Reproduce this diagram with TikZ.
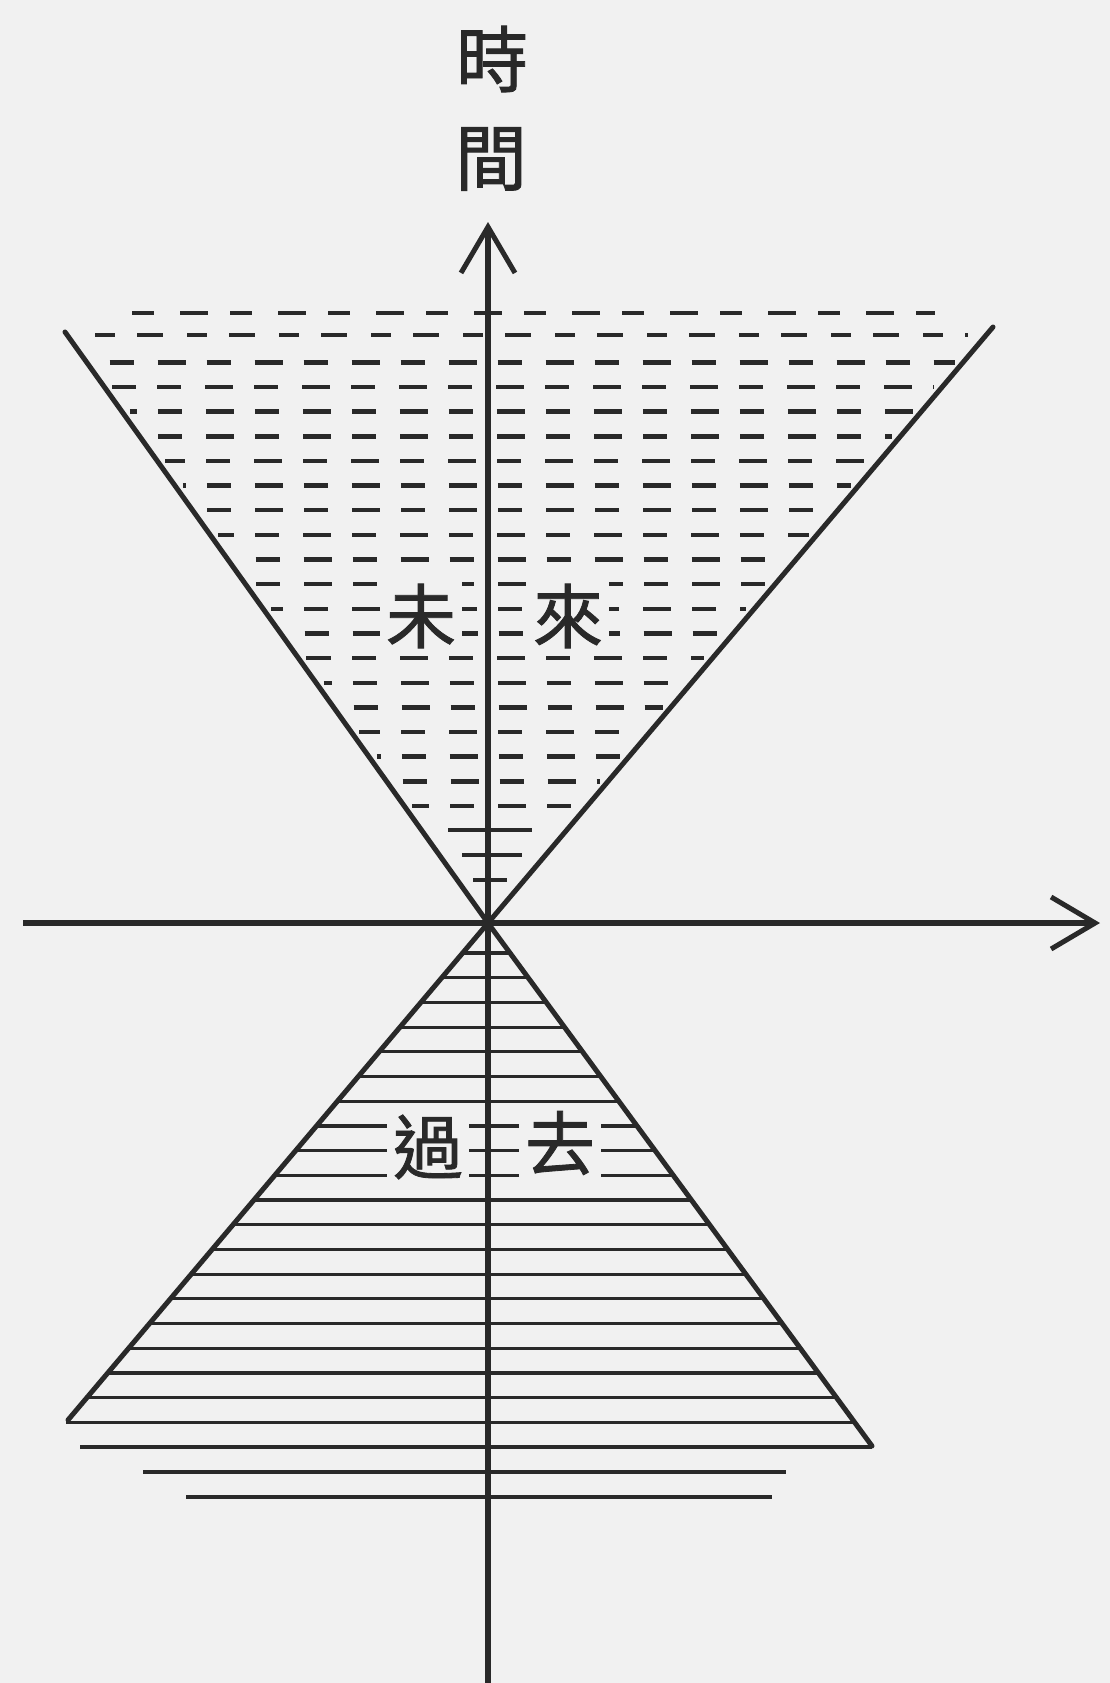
\documentclass[tikz,border=0pt]{standalone}
\usepackage{fontspec}
\newfontfamily\cjk[FakeBold=1.2]{Noto Sans CJK TC}
\usetikzlibrary{arrows.meta}
\definecolor{paper}{gray}{0.945}
\definecolor{ink}{gray}{0.16}
\begin{document}
\begin{tikzpicture}[x=1pt,y=-1pt,
  axis/.style={ink, line width=5.5pt},
  cone/.style={ink, line width=5pt, line cap=round},
  hatch/.style={ink, line width=3.2pt},
  dashrow/.style={ink, line width=4.5pt},
  kanji/.style={font=\cjk\fontsize{70}{70}\selectfont, text=ink, fill=paper, inner sep=6pt},
  axislabel/.style={font=\cjk\fontsize{72}{72}\selectfont, text=ink, inner sep=0pt},
  tipV/.style={-{Straight Barb[length=46pt,width=54pt,line width=5pt]}},
  tipH/.style={-{Straight Barb[length=44pt,width=52pt,line width=5pt]}}
]
\fill[paper] (0,0) rectangle (1110,1683);
\useasboundingbox (0,0) rectangle (1110,1683);

% key points
\coordinate (O) at (488,923);
\coordinate (T) at (488,222);
\coordinate (B) at (488,1690);
\coordinate (L) at (23,923);
\coordinate (R) at (1100,923);
\coordinate (UL) at (65,332);
\coordinate (UR) at (993,327);
\coordinate (LL) at (68,1420);
\coordinate (LR) at (872,1446);

% upper (future) cone: dashed rows
\draw[dashrow, dash pattern=on 22pt off 26pt on 28pt off 22pt] (132,313) -- (935,313);
\draw[dashrow, dash pattern=on 20pt off 22pt on 26pt off 24pt] (95,335) -- (968,335);
\foreach \i in {2,...,20} {
  \pgfmathsetmacro{\yy}{313+\i*24.65}
  \pgfmathsetmacro{\xl}{488-0.716*(923-\yy)+8}
  \pgfmathsetmacro{\xr}{488+0.847*(923-\yy)-8}
  \pgfmathsetmacro{\ph}{mod(\i*17,47)}
  \draw[dashrow, dash pattern=on 28pt off 21pt on 24pt off 24pt, dash phase=\ph pt] (\xl,\yy) -- (\xr,\yy);
}
\draw[dashrow] (448,830) -- (532,830);
\draw[dashrow] (462,855) -- (522,855);
\draw[dashrow] (473,880) -- (507,880);

% lower (past) cone: solid rows
\foreach \i in {0,...,19} {
  \pgfmathsetmacro{\yy}{953+\i*24.7}
  \pgfmathsetmacro{\xl}{488-0.845*(\yy-923)}
  \pgfmathsetmacro{\xr}{488+0.734*(\yy-923)}
  \draw[hatch] (\xl,\yy) -- (\xr,\yy);
}
\draw[hatch] (80,1447) -- (872,1447);
\draw[hatch] (143,1472) -- (786,1472);
\draw[hatch] (186,1497) -- (772,1497);

% region labels
\node[kanji] (wei) at (421,616) {未};
\node[kanji] (lai) at (568,616) {來};
\node[kanji] (guo) at (428,1147) {過};
\node[kanji] (qu)  at (560,1143) {去};

% cone edges
\draw[cone] (UL) -- (O) -- (UR);
\draw[cone] (LL) -- (O) -- (LR);

% axes
\draw[axis, tipV] (B) -- (T);
\draw[axis, tipH] (L) -- (R);

% axis label
\node[axislabel] (shi) at (492,59) {時};
\node[axislabel] (jian) at (491,159) {間};
\end{tikzpicture}
\end{document}
